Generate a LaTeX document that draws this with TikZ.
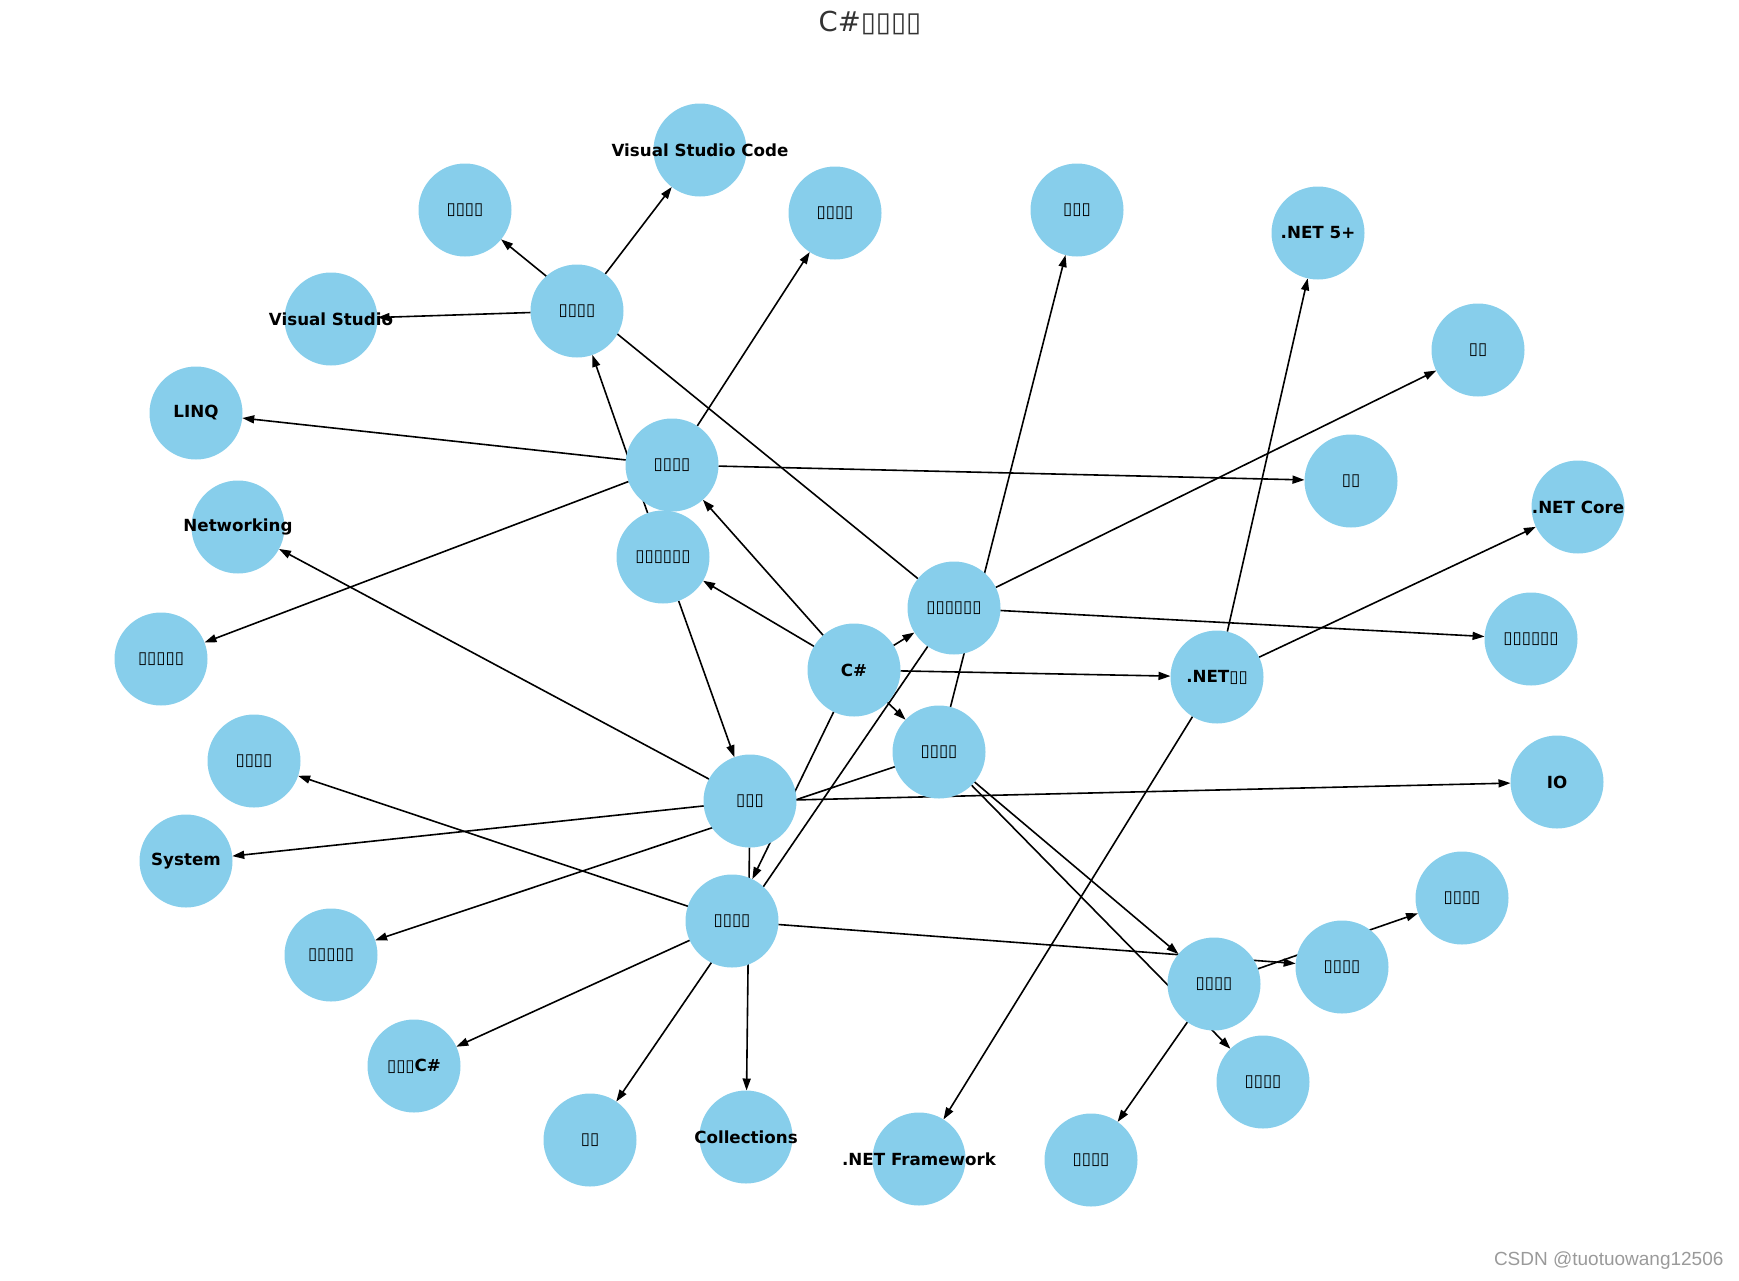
\documentclass[tikz,border=0pt]{standalone}
\usepackage{fontspec}
\setmainfont{DejaVu Sans}
\newfontfamily\wmfont{Liberation Sans}
\usetikzlibrary{arrows.meta}
\pgfdeclarelayer{bg}
\pgfsetlayers{bg,main}
\definecolor{sky}{HTML}{87CEEB}
\definecolor{titlegray}{HTML}{333333}
\definecolor{wmgray}{HTML}{9A9A9A}
\newcommand\lbl[1]{\makebox[0pt]{#1}}
\begin{document}
\begin{tikzpicture}[x=1pt,y=-1pt,
  nd/.style={circle,fill=sky,minimum size=93pt,inner sep=0pt,outer sep=0pt,
    font=\fontsize{16.7}{20}\selectfont\bfseries},
  ed/.style={line width=1.6pt,-{Triangle[length=12pt,width=8pt]}}]
\useasboundingbox (0,0) rectangle (1739,1280);
\node[text=titlegray,font=\fontsize{27.5}{32}\selectfont] (title) at (870,23) {C\#▯▯▯▯};
\node[anchor=east,text=wmgray,font=\wmfont\fontsize{19}{22}\selectfont] (wm) at (1727,1261) {CSDN @tuotuowang12506};
% nodes
\node[nd] (VSC) at (700,150) {\lbl{Visual Studio Code}};
\node[nd] (A) at (465,210) {\lbl{▯▯▯▯}};
\node[nd] (B) at (835,213) {\lbl{▯▯▯▯}};
\node[nd] (C) at (1077,210) {\lbl{▯▯▯}};
\node[nd] (NET5) at (1318,233) {\lbl{.NET 5+}};
\node[nd] (VS) at (331,319) {\lbl{Visual Studio}};
\node[nd] (D) at (577,311) {\lbl{▯▯▯▯}};
\node[nd] (E) at (1478,350) {\lbl{▯▯}};
\node[nd] (LINQ) at (196,413) {\lbl{LINQ}};
\node[nd] (F) at (672,465) {\lbl{▯▯▯▯}};
\node[nd] (G) at (1351,481) {\lbl{▯▯}};
\node[nd] (NW) at (238,527) {\lbl{Networking}};
\node[nd] (CORE) at (1578,507) {\lbl{.NET Core}};
\node[nd] (H) at (663,557) {\lbl{▯▯▯▯▯▯}};
\node[nd] (I) at (954,608) {\lbl{▯▯▯▯▯▯}};
\node[nd] (J) at (1531,639) {\lbl{▯▯▯▯▯▯}};
\node[nd] (K) at (161,659) {\lbl{▯▯▯▯▯}};
\node[nd] (CS) at (854,670) {\lbl{C\#}};
\node[nd] (NET) at (1217,677) {\lbl{.NET▯▯}};
\node[nd] (L) at (939,752) {\lbl{▯▯▯▯}};
\node[nd] (M) at (254,761) {\lbl{▯▯▯▯}};
\node[nd] (N) at (750,801) {\lbl{▯▯▯}};
\node[nd] (IO) at (1557,782) {\lbl{IO}};
\node[nd] (SYS) at (186,861) {\lbl{System}};
\node[nd] (O) at (732,921) {\lbl{▯▯▯▯}};
\node[nd] (P) at (1462,898) {\lbl{▯▯▯▯}};
\node[nd] (Q) at (331,955) {\lbl{▯▯▯▯▯}};
\node[nd] (R) at (1342,967) {\lbl{▯▯▯▯}};
\node[nd] (S) at (1214,984) {\lbl{▯▯▯▯}};
\node[nd] (T) at (414,1066) {\lbl{▯▯▯C\#}};
\node[nd] (U) at (1263,1082) {\lbl{▯▯▯▯}};
\node[nd] (V) at (590,1140) {\lbl{▯▯}};
\node[nd] (COL) at (746,1137) {\lbl{Collections}};
\node[nd] (FW) at (919,1159) {\lbl{.NET Framework}};
\node[nd] (W) at (1091,1160) {\lbl{▯▯▯▯}};
% edges
\begin{pgfonlayer}{bg}
\draw[ed] (CS) -- (F);
\draw[ed] (CS) -- (H);
\draw[ed] (CS) -- (I);
\draw[ed] (CS) -- (NET);
\draw[ed] (CS) -- (L);
\draw[ed] (CS) -- (O);
\draw[ed] (D) -- (VSC);
\draw[ed] (D) -- (VS);
\draw[ed] (I) -- (A);
\draw[ed] (I) -- (E);
\draw[ed] (I) -- (J);
\draw[ed] (I) -- (V);
\draw[ed] (H) -- (D);
\draw[ed] (H) -- (N);
\draw[ed] (F) -- (B);
\draw[ed] (F) -- (LINQ);
\draw[ed] (F) -- (G);
\draw[ed] (F) -- (K);
\draw[ed] (L) -- (C);
\draw[ed] (L) -- (Q);
\draw[ed] (L) -- (S);
\draw[ed] (L) -- (U);
\draw[ed] (NET) -- (NET5);
\draw[ed] (NET) -- (CORE);
\draw[ed] (NET) -- (FW);
\draw[ed] (N) -- (NW);
\draw[ed] (N) -- (SYS);
\draw[ed] (N) -- (IO);
\draw[ed] (N) -- (COL);
\draw[ed] (O) -- (M);
\draw[ed] (O) -- (R);
\draw[ed] (O) -- (T);
\draw[ed] (S) -- (P);
\draw[ed] (S) -- (W);
\end{pgfonlayer}
\end{tikzpicture}
\end{document}
